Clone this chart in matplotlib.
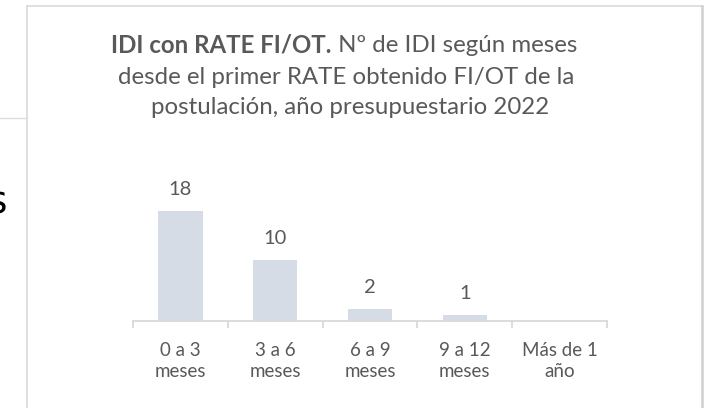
import matplotlib
matplotlib.use("Agg")
import matplotlib.pyplot as plt
from matplotlib.lines import Line2D

categories = ["0 a 3\nmeses", "3 a 6\nmeses", "6 a 9\nmeses", "9 a 12\nmeses", "Más de 1\naño"]
values = [18, 10, 2, 1, 0]
value_labels = ["18", "10", "2", "1", ""]
title_bold = "IDI con RATE FI/OT."
title_rest = " Nº de IDI según meses"
title_line2 = "desde el primer RATE obtenido FI/OT de la"
title_line3 = "postulación, año presupuestario 2022"

W, H = 709, 408
DPI = 100
plt.rcParams['font.family'] = ['Lato', 'DejaVu Sans']
TXT = "#595959"
BAR = "#D6DCE5"
GRID = "#D9D9D9"

fig = plt.figure(figsize=(W / DPI, H / DPI), dpi=DPI)
fig.patch.set_facecolor("white")

def fx(px):
    return px / W

def fy(py):
    return 1 - py / H

# frame of the chart box (screenshot context)
for (x0, y0, x1, y1, c, lw) in [
    (27, 6, 702, 6, "#D9D9D9", 1.2),
    (27, 6, 27, 408, "#D9D9D9", 1.2),
    (702, 6, 702, 408, "#CFCFCF", 1.8),
    (0, 118, 27, 118, "#DCDCDC", 1.0),
]:
    fig.add_artist(Line2D([fx(x0), fx(x1)], [fy(y0), fy(y1)], color=c, lw=lw))

fig.text(fx(8), fy(213), "s", fontsize=27, color="black", ha="right", va="baseline",
         family=['DejaVu Sans'])

# axes
left, right, base, top = 133, 607, 321, 199
ax = fig.add_axes([fx(left), fy(base), (right - left) / W, (base - top) / H])
x = list(range(len(categories)))
ax.bar(x, values, width=0.47, color=BAR, zorder=2)
ax.set_xlim(-0.5, len(categories) - 0.5)
ax.set_ylim(0, 20)
for s in ["top", "right", "left"]:
    ax.spines[s].set_visible(False)
ax.spines["bottom"].set_color(GRID)
ax.spines["bottom"].set_linewidth(1.3)
ax.set_yticks([])
ax.set_xticks(x)
ax.set_xticklabels(categories, fontsize=13.5, color=TXT, linespacing=1.3)
ax.tick_params(axis="x", which="major", length=0, pad=15)
ax.set_xticks([i - 0.5 for i in range(len(categories) + 1)], minor=True)
ax.tick_params(axis="x", which="minor", length=5, color=GRID, width=1.3, direction="out")
ax.patch.set_alpha(0)

for xi, v, lab in zip(x, values, value_labels):
    if lab:
        ax.annotate(lab, (xi, v), xytext=(0, 9.5), textcoords="offset points",
                    ha="center", va="bottom", fontsize=14.5, color=TXT)

# title
TS = 17.3
cx = 344
fig.canvas.draw()
r = fig.canvas.get_renderer()
tb = fig.text(0, fy(45), title_bold, fontsize=TS, fontweight="bold", color=TXT, va="center", ha="left")
tr = fig.text(0, fy(45), title_rest, fontsize=TS, color=TXT, va="center", ha="left")
wb = tb.get_window_extent(r).width
wr = tr.get_window_extent(r).width
start = cx - (wb + wr) / 2
tb.set_x(fx(start))
tr.set_x(fx(start + wb))
fig.text(fx(cx + 2), fy(77), title_line2, fontsize=TS, color=TXT, ha="center", va="center")
fig.text(fx(cx + 6), fy(108), title_line3, fontsize=TS, color=TXT, ha="center", va="center")

fig.savefig("out.png", dpi=DPI)
